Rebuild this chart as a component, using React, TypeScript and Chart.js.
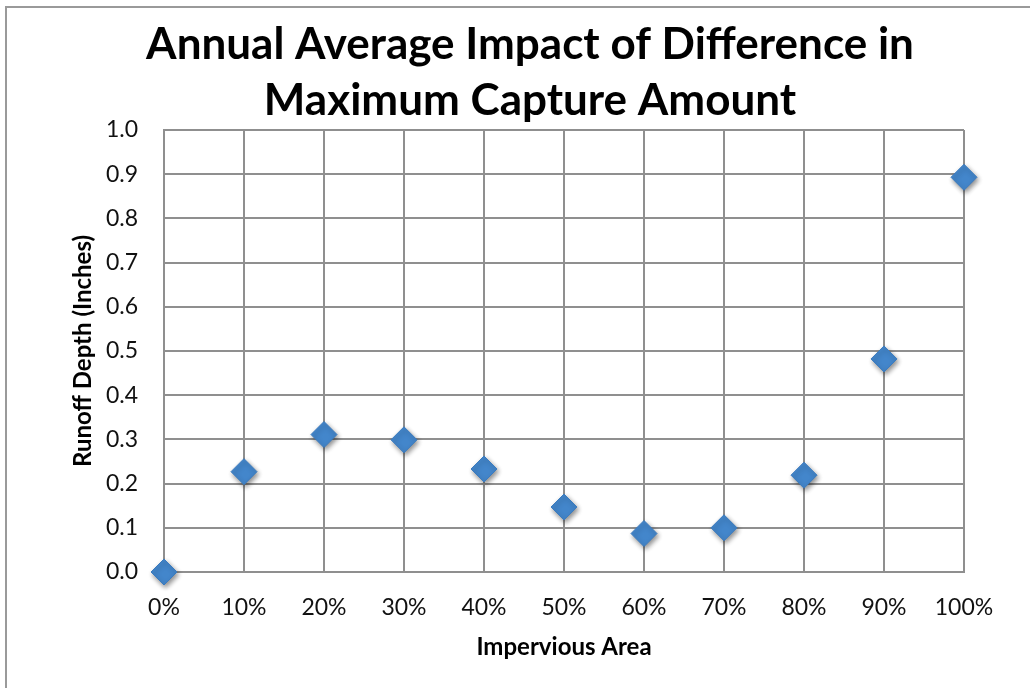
import React, { useEffect, useRef } from "react";
import { Chart, registerables } from "chart.js";

Chart.register(...registerables);

const titleLines = ["Annual Average Impact of Difference in", "Maximum Capture Amount"];
const xTitle = "Impervious Area";
const yTitle = "Runoff Depth (Inches)";
const imperviousPct = [0, 10, 20, 30, 40, 50, 60, 70, 80, 90, 100];
const runoffDepth = [0.0, 0.227, 0.311, 0.299, 0.233, 0.147, 0.087, 0.1, 0.219, 0.482, 0.893];

const FONT = "Lato, 'Open Sans', sans-serif";

const shadowPlugin = {
  id: "markerShadow",
  beforeDatasetsDraw(chart: any) {
    const ctx = chart.ctx;
    ctx.save();
    ctx.shadowColor = "rgba(0,0,0,0.45)";
    ctx.shadowBlur = 5;
    ctx.shadowOffsetX = 1.5;
    ctx.shadowOffsetY = 2.5;
  },
  afterDatasetsDraw(chart: any) {
    chart.ctx.restore();
  },
};

const titlePlugin = {
  id: "excelTitle",
  afterDraw(chart: any) {
    const ctx = chart.ctx;
    ctx.save();
    ctx.fillStyle = "#000";
    ctx.font = `bold 44px ${FONT}`;
    ctx.textAlign = "center";
    ctx.textBaseline = "middle";
    const cx = 530;
    const ys = [45, 101];
    titleLines.forEach((t, i) => ctx.fillText(t, cx, ys[i]));
    ctx.restore();
  },
};

export default function App() {
  const ref = useRef<HTMLCanvasElement | null>(null);

  useEffect(() => {
    if (!ref.current) return;
    const data = imperviousPct.map((x, i) => ({ x, y: runoffDepth[i] }));
    const chart = new Chart(ref.current, {
      type: "scatter",
      data: {
        datasets: [
          {
            data,
            clip: false as any,
            pointStyle: "rectRot",
            pointRadius: 13,
            pointHoverRadius: 13,
            backgroundColor: "#4386cb",
            borderColor: "#3b7bbf",
            borderWidth: 1,
          },
        ],
      },
      plugins: [shadowPlugin, titlePlugin],
      options: {
        animation: false,
        responsive: false,
        events: [],
        layout: { padding: { top: 130, left: 0, right: 66, bottom: 0 } },
        plugins: {
          legend: { display: false },
          tooltip: { enabled: false },
          title: { display: false },
        },
        scales: {
          x: {
            type: "linear",
            min: 0,
            max: 100,
            afterFit: (s: any) => {
              s.height = 688 - 572;
            },
            ticks: {
              stepSize: 10,
              padding: 22,
              color: "#111",
              font: { family: FONT, size: 23 },
              callback: (v: any) => v + "%",
              maxRotation: 0,
            },
            grid: { color: "#8f8f8f", lineWidth: 2, drawTicks: false },
            border: { color: "#8f8f8f", width: 2 },
            title: {
              display: true,
              text: xTitle,
              color: "#000",
              font: { family: FONT, size: 24, weight: "bold" },
              padding: { top: 0, bottom: 26 },
            },
          },
          y: {
            type: "linear",
            min: 0,
            max: 1,
            afterFit: (s: any) => {
              s.width = 164;
            },
            ticks: {
              stepSize: 0.1,
              padding: 26,
              color: "#111",
              font: { family: FONT, size: 23 },
              callback: (v: any) => Number(v).toFixed(1),
            },
            grid: { color: "#8f8f8f", lineWidth: 2, drawTicks: false },
            border: { color: "#8f8f8f", width: 2 },
            title: {
              display: true,
              text: yTitle,
              color: "#000",
              font: { family: FONT, size: 24, weight: "bold" },
              padding: { top: 69, bottom: 0 },
            },
          },
        },
      },
    });
    return () => chart.destroy();
  }, []);

  return (
    <div style={{ position: "fixed", left: 0, top: 0, width: 1030, height: 688, background: "#fff", overflow: "hidden" }}>
      <canvas ref={ref} width={1030} height={688} style={{ position: "absolute", left: 0, top: 0, width: 1030, height: 688 }} />
      <div
        style={{
          position: "absolute",
          left: 5,
          top: 6,
          width: 1030,
          height: 688,
          borderTop: "2px solid #9a9a9a",
          borderLeft: "2px solid #9a9a9a",
          pointerEvents: "none",
        }}
      />
    </div>
  );
}
